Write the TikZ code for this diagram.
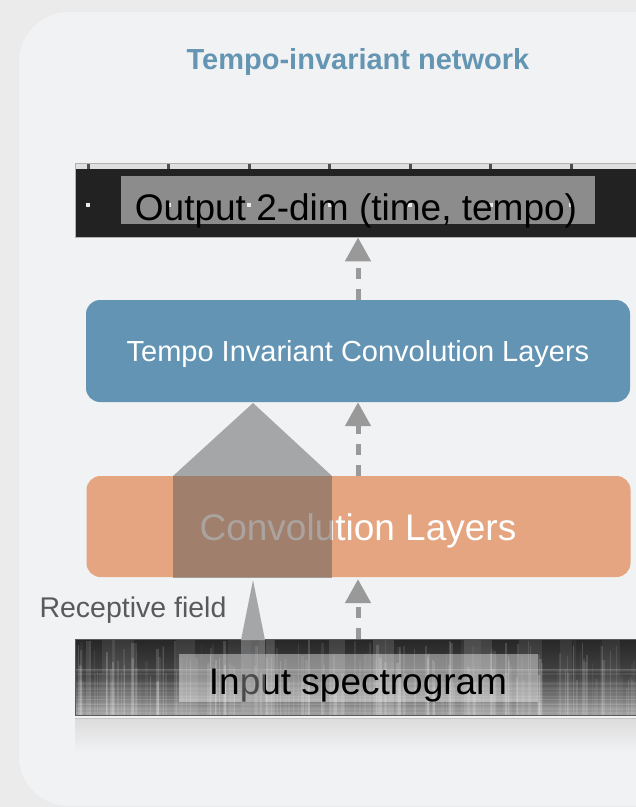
\documentclass[tikz,border=0pt]{standalone}
\usepackage{fontspec}
\setmainfont{Liberation Sans}
\usetikzlibrary{arrows.meta,positioning}
\definecolor{pagebg}{RGB}{235,235,235}
\definecolor{panelbg}{RGB}{241,242,244}
\definecolor{titleblue}{RGB}{100,150,180}
\definecolor{tinvblue}{RGB}{99,148,179}
\definecolor{convorange}{RGB}{228,165,128}
\definecolor{arrowgray}{RGB}{153,153,153}
\definecolor{fieldgray}{RGB}{165,166,168}
\definecolor{fieldshade}{RGB}{115,103,95}
\definecolor{labelgray}{RGB}{90,90,90}
\definecolor{outdark}{RGB}{34,34,34}
\definecolor{outgray}{RGB}{140,140,140}
\definecolor{specdark}{RGB}{38,38,38}
\definecolor{specmid}{RGB}{70,70,70}
\definecolor{speclight}{RGB}{160,160,160}

\begin{document}
\begin{tikzpicture}[x=1pt,y=-1pt,
  layerbox/.style={rounded corners=14pt,minimum width=544pt,minimum height=102pt,
                   text=white,inner sep=0pt},
  flowarrow/.style={arrowgray,line width=5pt,dash pattern=on 11pt off 10pt,
                    -{Triangle[width=25pt,length=24pt]}}]
  \useasboundingbox (0,0) rectangle (636,807);
  \clip (0,0) rectangle (636,807);
  \fill[pagebg] (0,0) rectangle (636,807);
  \fill[panelbg,rounded corners=50pt] (19,12) rectangle (720,806);

  %% title
  \node[text=titleblue,font=\bfseries\fontsize{29}{32}\selectfont,anchor=base]
        (title) at (358,69) {Tempo-invariant network};

  %% output map
  \node[draw=gray!60,fill=outdark,minimum width=575pt,minimum height=74pt,
        inner sep=0pt,anchor=north west] (outbox) at (75,163) {};
  \fill[gray!25] (76,164) rectangle (640,169);
  \foreach \k in {0,...,7}{
    \pgfmathsetmacro{\tx}{88+80.5*\k}
    \fill[outdark!80] (\tx-1.5,164) rectangle (\tx+1.5,169);
  }
  \node[fill=outgray,minimum width=474pt,minimum height=48pt,inner sep=0pt]
        (outtag) at (358,200) {};
  \foreach \k in {0,...,7}{
    \pgfmathsetmacro{\tx}{88+80.5*\k}
    \fill[white!85!gray] (\tx-2,203) rectangle (\tx+2,207);
  }
  \node[anchor=base,font=\fontsize{37}{40}\selectfont] (outtext) at (356,220)
        {Output 2-dim (time, tempo)};

  %% layers
  \node[layerbox,fill=tinvblue] (tinv) at (358,351) {};
  \node[text=white,anchor=base,font=\fontsize{29}{32}\selectfont] (tinvtext)
        at (358,361) {Tempo Invariant Convolution Layers};
  \node[layerbox,fill=convorange,minimum height=101pt] (conv) at (358.5,526.5) {};
  \node[text=white,anchor=base,font=\fontsize{37}{40}\selectfont] (convtext)
        at (358,540) {Convolution Layers};

  %% receptive field, upper part
  \fill[fieldgray] (173,476) -- (253,403) -- (332,476) -- cycle;
  \fill[fieldshade,fill opacity=0.6] (173,476) rectangle (332,578);

  %% input spectrogram
  \begin{scope}
    \clip (75,639) rectangle (636,715);
    \shade[top color=specdark,bottom color=speclight,middle color=specmid]
          (75,639) rectangle (636,715);
    \pgfmathsetseed{42}
    \foreach \i in {1,...,200}{
      \pgfmathsetmacro{\sx}{75+561*rnd}
      \pgfmathsetmacro{\sy}{639+50*rnd}
      \pgfmathsetmacro{\sw}{0.8+2.5*rnd}
      \pgfmathsetmacro{\so}{0.03+0.14*rnd}
      \fill[white,opacity=\so] (\sx,\sy) rectangle (\sx+\sw,715);
    }
    \foreach \i in {1,...,12}{
      \pgfmathsetmacro{\sx}{75+540*rnd}
      \pgfmathsetmacro{\sw}{8+25*rnd}
      \pgfmathsetmacro{\so}{0.04+0.1*rnd}
      \fill[white,opacity=\so] (\sx,639) rectangle (\sx+\sw,715);
    }
    \foreach \i in {1,...,20}{
      \pgfmathsetmacro{\hy}{668+45*rnd}
      \pgfmathsetmacro{\so}{0.04+0.1*rnd}
      \fill[white,opacity=\so] (75,\hy) rectangle (636,\hy+1.2);
    }
  \end{scope}
  \node[draw=gray!70!black,minimum width=575pt,minimum height=76pt,inner sep=0pt,
        anchor=north west] (spec) at (75,639) {};
  \node[fill=white,fill opacity=0.4,minimum width=359pt,minimum height=48pt,inner sep=0pt]
        (spectag) at (358.5,678) {};
  \node[anchor=base,font=\fontsize{37}{40}\selectfont] (spectext) at (358,694)
        {Input spectrogram};
  \shade[top color=gray!28,bottom color=panelbg] (75,718) rectangle (636,752);
  \draw[gray!45] (75,718.5) -- (636,718.5);

  %% receptive field, lower part
  \fill[fieldgray] (241,640) -- (253,580) -- (265,640) -- cycle;
  \fill[fieldgray,fill opacity=0.45] (241,640) rectangle (265,715);
  \node[text=labelgray,font=\fontsize{28.5}{30}\selectfont] (recept) at (133,610)
        {Receptive field};

  %% flow
  \draw[flowarrow] (tinv.north) -- (tinv.north |- outbox.south);
  \draw[flowarrow] (tinv.south |- conv.north) -- (tinv.south);
  \draw[flowarrow,shorten >=2pt] (tinv.south |- spec.north) -- (tinv.south |- conv.south);
\end{tikzpicture}
\end{document}
